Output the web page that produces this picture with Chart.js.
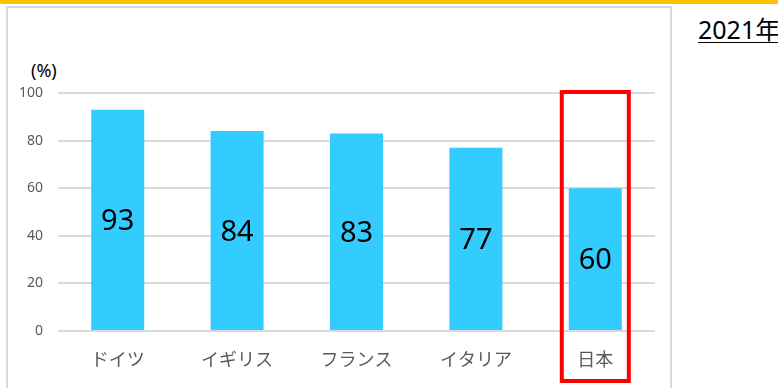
<!DOCTYPE html>
<html>
<head>
<meta charset="utf-8">
<script src="https://cdn.jsdelivr.net/npm/chart.js@4/dist/chart.umd.min.js"></script>
<style>
  body { margin: 0; background: #fff; }
  #wrap { position: relative; width: 778px; height: 388px; overflow: hidden; font-family: 'Noto Sans', 'Noto Sans CJK JP', sans-serif; }
  #topbar { position: absolute; left: 0; top: 0; width: 778px; height: 4px; background: #FFC000; }
  #frame { position: absolute; left: 6px; top: 6px; width: 666px; height: 400px; border: 2px solid #d9d9d9; box-sizing: border-box; }
  #unit { position: absolute; left: 31px; top: 58px; font-size: 18px; color: #000; }
  #year { position: absolute; left: 698px; top: 10px; font-size: 25px; color: #000; text-decoration: underline; text-decoration-thickness: 1px; text-underline-offset: 3px; white-space: nowrap; font-family: 'Noto Sans', 'Noto Sans CJK JP', sans-serif; }
  canvas { position: absolute; left: 0; top: 0; }
</style>
</head>
<body>
<div id="wrap">
  <div id="topbar"></div>
  <div id="frame"></div>
  <div id="unit">(%)</div>
  <div id="year">2021年</div>
  <canvas id="chart" width="778" height="388"></canvas>
</div>
<script>
const countries = ['ドイツ', 'イギリス', 'フランス', 'イタリア', '日本'];
const rates = [93, 84, 83, 77, 60];
const yTicks = [0, 20, 40, 60, 80, 100];
const highlightIndex = 4;

// value printed in the middle of each bar
const barValues = {
  id: 'barValues',
  afterDatasetsDraw(chart) {
    const ctx = chart.ctx;
    const meta = chart.getDatasetMeta(0);
    ctx.save();
    ctx.font = '29px "Noto Sans", sans-serif';
    ctx.fillStyle = '#000';
    ctx.textAlign = 'center';
    ctx.textBaseline = 'middle';
    meta.data.forEach((bar, i) => {
      const mid = (bar.y + bar.base) / 2;
      ctx.fillText(String(rates[i]), bar.x, mid + 2);
    });
    ctx.restore();
  }
};

// red box around Japan
const highlightBox = {
  id: 'highlightBox',
  afterDraw(chart) {
    const ctx = chart.ctx;
    const bar = chart.getDatasetMeta(0).data[highlightIndex];
    const top = chart.scales.y.getPixelForValue(100) - 1;
    const half = bar.width / 2 + 7;
    ctx.save();
    ctx.strokeStyle = '#FF0000';
    ctx.lineWidth = 4;
    ctx.strokeRect(bar.x - half, top, half * 2, 381 - top);
    ctx.restore();
  }
};

const ctx = document.getElementById('chart').getContext('2d');
new Chart(ctx, {
  type: 'bar',
  data: {
    labels: countries,
    datasets: [{
      data: rates,
      backgroundColor: '#33CCFF',
      categoryPercentage: 1,
      barPercentage: 0.444
    }]
  },
  options: {
    responsive: false,
    animation: false,
    layout: { padding: { top: 93, right: 123, bottom: 0, left: 0 } },
    scales: {
      y: {
        min: 0,
        max: 100,
        afterFit(s) { s.width = 58; },
        afterBuildTicks(s) { s.ticks = yTicks.map(v => ({ value: v })); },
        border: { display: false },
        grid: { color: '#d9d9d9', lineWidth: 2, drawTicks: false },
        ticks: { color: '#595959', font: { size: 14, family: 'Noto Sans' }, padding: 15 }
      },
      x: {
        afterFit(s) { s.height = 57; },
        border: { display: false },
        grid: { display: false, drawTicks: false },
        ticks: { color: '#595959', font: { size: 18, family: 'Noto Sans CJK JP' }, padding: 17 }
      }
    },
    plugins: {
      legend: { display: false },
      tooltip: { enabled: false }
    }
  },
  plugins: [barValues, highlightBox]
});
</script>
</body>
</html>
